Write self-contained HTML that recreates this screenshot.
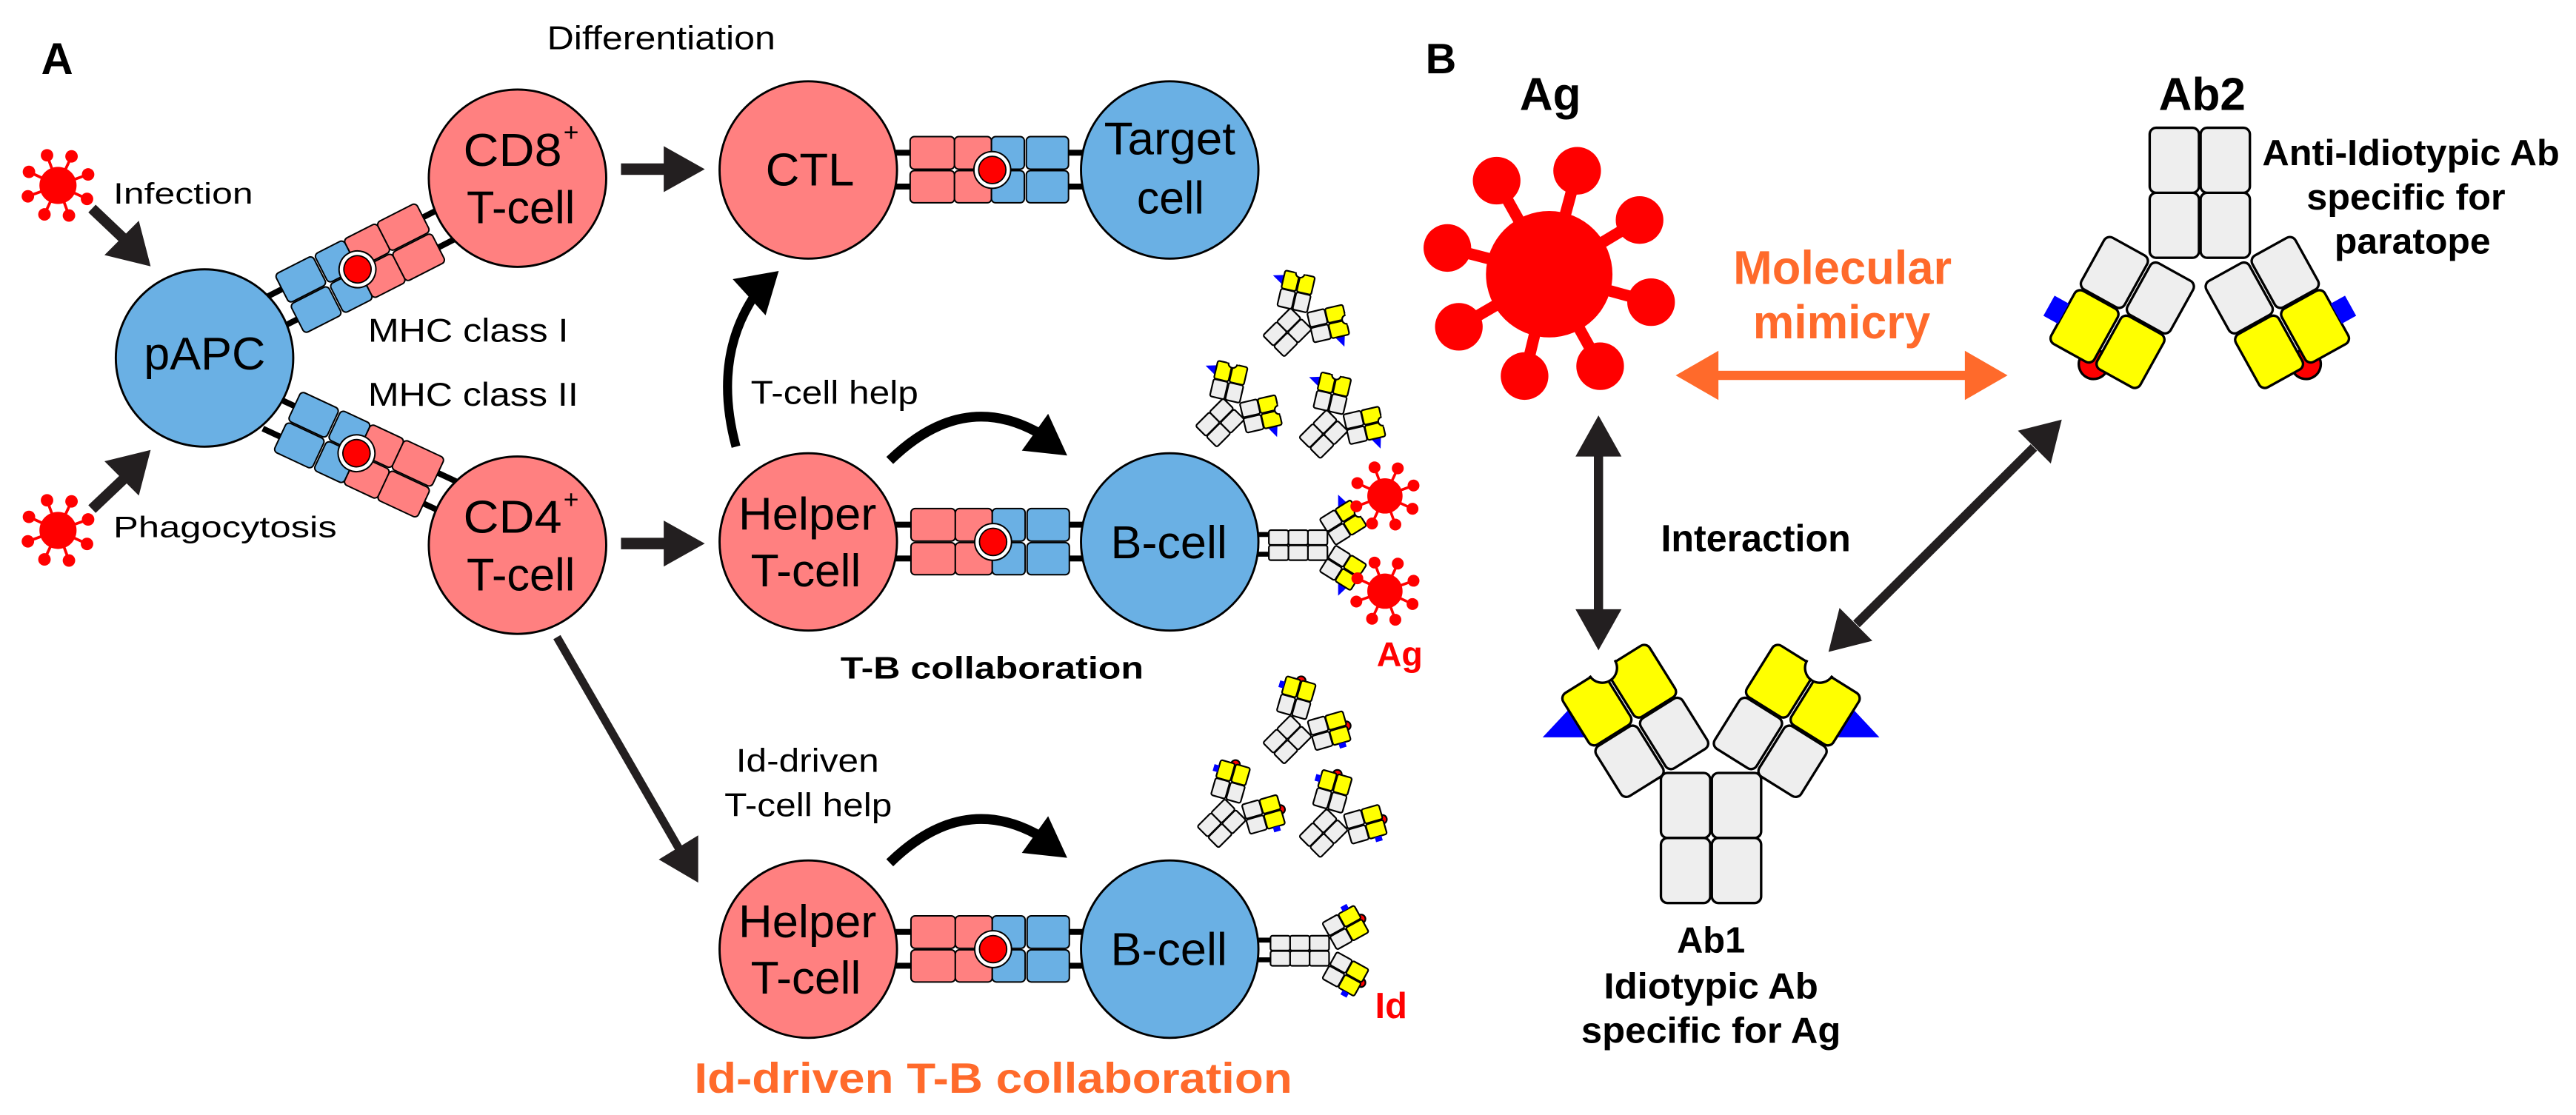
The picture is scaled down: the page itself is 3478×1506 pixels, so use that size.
<!DOCTYPE html>
<html><head><meta charset="utf-8"><style>
html,body{margin:0;padding:0;background:#fff;}
svg{display:block;}
.n{font-family:"Liberation Sans Narrow","Liberation Sans",Arial,sans-serif;}
.b{font-family:"Liberation Sans",Arial,sans-serif;font-weight:bold;}
</style></head><body>
<svg xmlns="http://www.w3.org/2000/svg" xmlns:xlink="http://www.w3.org/1999/xlink" width="3478" height="1506" viewBox="0 0 1568 679" preserveAspectRatio="none">
<defs>
<g id="cpx">
 <g fill="#000"><rect x="-62" y="-12.3" width="14" height="3.6"/><rect x="-62" y="8.3" width="14" height="3.6"/><rect x="44" y="-12.3" width="14" height="3.6"/><rect x="44" y="8.3" width="14" height="3.6"/></g>
 <g stroke="#000" stroke-width="0.9">
 <rect x="-50" y="-20.3" width="27" height="19.8" rx="2.5" fill="#FF8080"/>
 <rect x="-50" y="0.4" width="27" height="19.6" rx="2.5" fill="#FF8080"/>
 <rect x="-23" y="-20.3" width="22.5" height="19.8" rx="2.5" fill="#FF8080"/>
 <rect x="-23" y="0.4" width="22.5" height="19.6" rx="2.5" fill="#FF8080"/>
 <rect x="-0.5" y="-20.3" width="20" height="19.8" rx="2.5" fill="#6AB0E4"/>
 <rect x="-0.5" y="0.4" width="20" height="19.6" rx="2.5" fill="#6AB0E4"/>
 <rect x="20.7" y="-20.3" width="25.7" height="19.8" rx="2.5" fill="#6AB0E4"/>
 <rect x="20.7" y="0.4" width="25.7" height="19.6" rx="2.5" fill="#6AB0E4"/>
 <circle cx="0" cy="0" r="11.2" fill="#fff"/>
 <circle cx="0" cy="0" r="8.3" fill="#f00" stroke-width="0.8"/>
 </g>
</g>
<g id="arm1">
 <rect x="-31" y="1" width="30" height="36" rx="4" fill="#eee"/>
 <rect x="1" y="1" width="30" height="36" rx="4" fill="#eee"/>
 <rect x="-31" y="-37" width="30" height="37" rx="4" fill="#ff0"/>
 <rect x="1" y="-37" width="30" height="37" rx="4" fill="#ff0"/>
 <circle cx="0" cy="-38" r="9" fill="#fff"/>
 <rect x="-12.5" y="-52" width="25" height="14" fill="#fff" stroke="none"/>
</g>
<g id="arm2">
 <circle cx="0" cy="-36" r="9" fill="#f00"/>
 <rect x="-31" y="1" width="30" height="36" rx="4" fill="#eee"/>
 <rect x="1" y="1" width="30" height="36" rx="4" fill="#eee"/>
 <rect x="-31" y="-37" width="30" height="37" rx="4" fill="#ff0"/>
 <rect x="1" y="-37" width="30" height="37" rx="4" fill="#ff0"/>
 <rect x="-41" y="-25" width="10" height="14" fill="#00f" stroke="none"/>
</g>
<g id="stem2">
 <rect x="-30.5" y="0" width="30" height="39.6" rx="4" fill="#eee"/>
 <rect x="0.5" y="0" width="30" height="39.6" rx="4" fill="#eee"/>
 <rect x="-30.5" y="39.6" width="30" height="39.6" rx="4" fill="#eee"/>
 <rect x="0.5" y="39.6" width="30" height="39.6" rx="4" fill="#eee"/>
</g>
<g id="stem3">
 <use href="#stem2" xlink:href="#stem2"/>
 <rect x="-30.5" y="79.2" width="30" height="39.6" rx="4" fill="#eee"/>
 <rect x="0.5" y="79.2" width="30" height="39.6" rx="4" fill="#eee"/>
</g>
<g id="tri">
 <polygon points="-102.5,-21.7 -76.5,-21.7 -83.5,-42" fill="#00f" stroke="none"/>
 <polygon points="102.5,-21.7 76.5,-21.7 83.5,-42" fill="#00f" stroke="none"/>
</g>
<g id="arms1">
 <use href="#tri" xlink:href="#tri"/>
 <use href="#arm1" xlink:href="#arm1" transform="translate(-46.1,-31.7) rotate(-32)"/>
 <g transform="scale(-1,1)"><use href="#arm1" xlink:href="#arm1" transform="translate(-46.1,-31.7) rotate(-32)"/></g>
</g>
<g id="arms2">
 <use href="#arm2" xlink:href="#arm2" transform="translate(-47.2,-33.3) rotate(-29)"/>
 <g transform="scale(-1,1)"><use href="#arm2" xlink:href="#arm2" transform="translate(-47.2,-33.3) rotate(-29)"/></g>
</g>
<g id="ab1"><use href="#stem2" xlink:href="#stem2"/><use href="#arms1" xlink:href="#arms1"/></g>
<g id="ab2"><use href="#stem2" xlink:href="#stem2"/><use href="#arms2" xlink:href="#arms2"/></g>
<g id="ab1r"><use href="#stem3" xlink:href="#stem3"/><use href="#arms1" xlink:href="#arms1"/></g>
<g id="ab2r"><use href="#stem3" xlink:href="#stem3"/><use href="#arms2" xlink:href="#arms2"/></g>
<g id="vir" fill="#f00">
 <g stroke="#f00" stroke-width="1.7">
 <line x1="0" y1="0" x2="-6.67" y2="-18.33"/><line x1="0" y1="0" x2="8.24" y2="-17.67"/>
 <line x1="0" y1="0" x2="18.32" y2="-6.67"/><line x1="0" y1="0" x2="17.67" y2="8.24"/>
 <line x1="0" y1="0" x2="6.67" y2="18.33"/><line x1="0" y1="0" x2="-8.24" y2="17.67"/>
 <line x1="0" y1="0" x2="-18.32" y2="6.67"/><line x1="0" y1="0" x2="-17.67" y2="-8.24"/>
 </g>
 <circle cx="-6.67" cy="-18.33" r="3.8"/><circle cx="8.24" cy="-17.67" r="3.8"/>
 <circle cx="18.32" cy="-6.67" r="3.8"/><circle cx="17.67" cy="8.24" r="3.8"/>
 <circle cx="6.67" cy="18.33" r="3.8"/><circle cx="-8.24" cy="17.67" r="3.8"/>
 <circle cx="-18.32" cy="6.67" r="3.8"/><circle cx="-17.67" cy="-8.24" r="3.8"/>
 <circle cx="0" cy="0" r="11.3"/>
</g>
</defs>
<rect width="1568" height="679" fill="#fff"/>

<!-- complexes (behind cells) -->
<use href="#cpx" xlink:href="#cpx" transform="translate(217.6,164) rotate(153)"/>
<use href="#cpx" xlink:href="#cpx" transform="translate(217,276) rotate(-155)"/>
<use href="#cpx" xlink:href="#cpx" transform="translate(604,103.5)"/>
<use href="#cpx" xlink:href="#cpx" transform="translate(604.5,330)"/>
<use href="#cpx" xlink:href="#cpx" transform="translate(604.5,578)"/>
<g fill="#000"><rect x="760" y="324" width="14" height="3"/><rect x="760" y="336" width="14" height="3"/><rect x="760" y="571" width="14" height="3"/><rect x="760" y="583" width="14" height="3"/></g>

<g stroke="#000" stroke-width="1.3">
<circle cx="124.5" cy="218" r="54" fill="#6AB0E4"/>
<circle cx="315" cy="108.5" r="54" fill="#FF8080"/>
<circle cx="315" cy="332" r="54" fill="#FF8080"/>
<circle cx="492" cy="103.5" r="54" fill="#FF8080"/>
<circle cx="712" cy="103.5" r="54" fill="#6AB0E4"/>
<circle cx="492" cy="330" r="54" fill="#FF8080"/>
<circle cx="712" cy="330" r="54" fill="#6AB0E4"/>
<circle cx="492" cy="578" r="54" fill="#FF8080"/>
<circle cx="712" cy="578" r="54" fill="#6AB0E4"/>
</g>

<!-- antibodies -->
<g stroke="#000">
<use href="#ab1" xlink:href="#ab1" transform="translate(1041.5,470.7)" stroke-width="1.5"/>
<use href="#ab2" xlink:href="#ab2" transform="translate(1339,157) rotate(180)" stroke-width="1.5"/>
<use href="#ab1" xlink:href="#ab1" transform="translate(792,194) rotate(45) scale(0.3)" stroke-width="3.3"/>
<use href="#ab1" xlink:href="#ab1" transform="translate(751,249) rotate(45) scale(0.3)" stroke-width="3.3"/>
<use href="#ab1" xlink:href="#ab1" transform="translate(814,256) rotate(45) scale(0.3)" stroke-width="3.3"/>
<use href="#ab2" xlink:href="#ab2" transform="translate(792,442) rotate(45) scale(0.3)" stroke-width="3.3"/>
<use href="#ab2" xlink:href="#ab2" transform="translate(752,493) rotate(45) scale(0.3)" stroke-width="3.3"/>
<use href="#ab2" xlink:href="#ab2" transform="translate(814,499) rotate(45) scale(0.3)" stroke-width="3.3"/>
<use href="#ab1r" xlink:href="#ab1r" transform="translate(808,332) rotate(90) scale(0.3)" stroke-width="3.3"/>
<use href="#ab2r" xlink:href="#ab2r" transform="translate(809,579) rotate(90) scale(0.3)" stroke-width="3.3"/>
</g>

<!-- viruses -->
<use href="#vir" xlink:href="#vir" transform="translate(35.3,112.9)"/>
<use href="#vir" xlink:href="#vir" transform="translate(35.3,323)"/>
<use href="#vir" xlink:href="#vir" transform="translate(843,302) scale(0.95)"/>
<use href="#vir" xlink:href="#vir" transform="translate(843,360) scale(0.95)"/>
<g fill="#f00" stroke="#f00" stroke-width="7">
<line x1="943" y1="167" x2="911" y2="110"/><line x1="943" y1="167" x2="960" y2="104"/>
<line x1="943" y1="167" x2="998" y2="134"/><line x1="943" y1="167" x2="1005" y2="184"/>
<line x1="943" y1="167" x2="974" y2="223"/><line x1="943" y1="167" x2="928" y2="229"/>
<line x1="943" y1="167" x2="888" y2="199"/><line x1="943" y1="167" x2="881" y2="151"/>
</g>
<g fill="#f00">
<circle cx="911" cy="110" r="14.5"/><circle cx="960" cy="104" r="14.5"/><circle cx="998" cy="134" r="14.5"/><circle cx="1005" cy="184" r="14.5"/>
<circle cx="974" cy="223" r="14.5"/><circle cx="928" cy="229" r="14.5"/><circle cx="888" cy="199" r="14.5"/><circle cx="881" cy="151" r="14.5"/>
<circle cx="943" cy="167" r="38.5"/>
</g>

<g fill="#231F20" stroke="none">
<line x1="56" y1="127" x2="76" y2="146" stroke="#231F20" stroke-width="6.5"/>
<polygon points="91.7,162.2 63.6,155.3 84.5,134.4"/>
<line x1="56" y1="310" x2="76" y2="291" stroke="#231F20" stroke-width="6.5"/>
<polygon points="91.7,274 63.6,280.9 84.5,301.8"/>
<rect x="378" y="99.5" width="28" height="7"/>
<polygon points="404,89 429,103 404,117"/>
<rect x="378" y="327.5" width="28" height="7"/>
<polygon points="404,317 429,331 404,345"/>
<line x1="339" y1="388" x2="414" y2="518" stroke="#231F20" stroke-width="5"/>
<polygon points="425,537.5 401,523.4 425,508.7"/>
<path d="M448,272 Q434,220 458,182" fill="none" stroke="#000" stroke-width="5.5"/>
<polygon points="474,165 446,170 466,192" fill="#000"/>
<path d="M541.6,280.4 Q585,238 631,263" fill="none" stroke="#000" stroke-width="6"/>
<polygon points="649.6,277.4 622,274.4 638,252" fill="#000"/>
<path d="M541.6,525.4 Q585,483 631,508" fill="none" stroke="#000" stroke-width="6"/>
<polygon points="649.6,522.4 622,519.4 638,497" fill="#000"/>
<rect x="970.2" y="275" width="5.6" height="99"/>
<polygon points="973,253 959,278 987,278"/>
<polygon points="973,396 959,371 987,371"/>
<line x1="1238" y1="272.5" x2="1130" y2="380" stroke="#231F20" stroke-width="5.6"/>
<polygon points="1255,255.5 1248.3,282.3 1228.3,262.3"/>
<polygon points="1113,397 1119.7,370.2 1139.7,390.2"/>
<rect x="1044" y="225.8" width="154" height="5.6" fill="#FF6A2B"/>
<polygon points="1020,228.6 1046,213.6 1046,243.6" fill="#FF6A2B"/>
<polygon points="1222,228.6 1196,213.6 1196,243.6" fill="#FF6A2B"/>
</g>

<g fill="#000">
<text class="b" x="25" y="45" font-size="27">A</text>
<text class="n" x="333" y="30" font-size="20" textLength="139" lengthAdjust="spacingAndGlyphs">Differentiation</text>
<text class="n" x="69" y="124" font-size="18" textLength="85" lengthAdjust="spacingAndGlyphs">Infection</text>
<text class="n" x="69" y="327" font-size="18" textLength="136" lengthAdjust="spacingAndGlyphs">Phagocytosis</text>
<text class="n" x="87.6" y="225" font-size="28" textLength="74" lengthAdjust="spacingAndGlyphs">pAPC</text>
<text class="n" x="282" y="101" font-size="28" textLength="60" lengthAdjust="spacingAndGlyphs">CD8</text>
<text class="n" x="343" y="86" font-size="16">+</text>
<text class="n" x="284" y="136" font-size="28" textLength="66" lengthAdjust="spacingAndGlyphs">T-cell</text>
<text class="n" x="282" y="324.5" font-size="28" textLength="60" lengthAdjust="spacingAndGlyphs">CD4</text>
<text class="n" x="343" y="309.5" font-size="16">+</text>
<text class="n" x="284" y="359.5" font-size="28" textLength="66" lengthAdjust="spacingAndGlyphs">T-cell</text>
<text class="n" x="224" y="208" font-size="20" textLength="122" lengthAdjust="spacingAndGlyphs">MHC class I</text>
<text class="n" x="224" y="247" font-size="20" textLength="128" lengthAdjust="spacingAndGlyphs">MHC class II</text>
<text class="n" x="466" y="113" font-size="28" textLength="54" lengthAdjust="spacingAndGlyphs">CTL</text>
<text class="n" x="672" y="94" font-size="28" textLength="80" lengthAdjust="spacingAndGlyphs">Target</text>
<text class="n" x="692" y="130" font-size="28" textLength="41" lengthAdjust="spacingAndGlyphs">cell</text>
<text class="n" x="457" y="246" font-size="20" textLength="102" lengthAdjust="spacingAndGlyphs">T-cell help</text>
<text class="n" x="449.5" y="322.7" font-size="28" textLength="84" lengthAdjust="spacingAndGlyphs">Helper</text>
<text class="n" x="457" y="357" font-size="28" textLength="67" lengthAdjust="spacingAndGlyphs">T-cell</text>
<text class="n" x="676" y="340" font-size="28" textLength="71" lengthAdjust="spacingAndGlyphs">B-cell</text>
<text class="n" x="511.6" y="413.3" font-size="19" font-weight="bold" textLength="184.5" lengthAdjust="spacingAndGlyphs">T-B collaboration</text>
<text class="b" x="838" y="405.6" font-size="21" fill="#f00">Ag</text>
<text class="n" x="448" y="470" font-size="20" textLength="87" lengthAdjust="spacingAndGlyphs">Id-driven</text>
<text class="n" x="441" y="497" font-size="20" textLength="102" lengthAdjust="spacingAndGlyphs">T-cell help</text>
<text class="n" x="449.5" y="570.7" font-size="28" textLength="84" lengthAdjust="spacingAndGlyphs">Helper</text>
<text class="n" x="457" y="605" font-size="28" textLength="67" lengthAdjust="spacingAndGlyphs">T-cell</text>
<text class="n" x="676" y="587.8" font-size="28" textLength="71" lengthAdjust="spacingAndGlyphs">B-cell</text>
<text class="b" x="837" y="620" font-size="22" fill="#f00">Id</text>
<text class="n" x="422.6" y="665.4" font-size="26" font-weight="bold" fill="#FF6A2B" textLength="364" lengthAdjust="spacingAndGlyphs">Id-driven T-B collaboration</text>
<text class="b" x="867.7" y="44.6" font-size="26">B</text>
<text class="b" x="925" y="67" font-size="28">Ag</text>
<text class="b" x="1314" y="67" font-size="28">Ab2</text>
<text class="b" x="1055" y="173" font-size="29" fill="#FF6A2B" textLength="133" lengthAdjust="spacingAndGlyphs">Molecular</text>
<text class="b" x="1067" y="206" font-size="29" fill="#FF6A2B" textLength="108" lengthAdjust="spacingAndGlyphs">mimicry</text>
<text class="b" x="1377" y="100.5" font-size="22" textLength="181" lengthAdjust="spacingAndGlyphs">Anti-Idiotypic Ab</text>
<text class="b" x="1404" y="127.5" font-size="22" textLength="121" lengthAdjust="spacingAndGlyphs">specific for</text>
<text class="b" x="1421" y="154.5" font-size="22" textLength="95" lengthAdjust="spacingAndGlyphs">paratope</text>
<text class="b" x="1011" y="335.6" font-size="23" textLength="115.5" lengthAdjust="spacingAndGlyphs">Interaction</text>
<text class="b" x="1041.5" y="580" font-size="22" text-anchor="middle">Ab1</text>
<text class="b" x="1041.5" y="608" font-size="22" text-anchor="middle" textLength="130.5" lengthAdjust="spacingAndGlyphs">Idiotypic Ab</text>
<text class="b" x="1041.5" y="635" font-size="22" text-anchor="middle" textLength="158" lengthAdjust="spacingAndGlyphs">specific for Ag</text>
</g>
</svg>
</body></html>
